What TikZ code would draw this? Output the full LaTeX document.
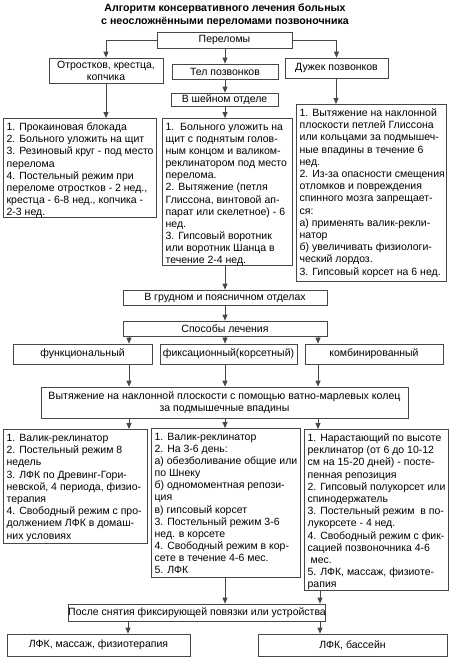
\documentclass[tikz,border=0pt]{standalone}
\usepackage{fontspec}
\setmainfont{Liberation Sans}
\usetikzlibrary{arrows.meta}
\definecolor{linec}{gray}{0.28}
\tikzset{
  bx/.style={draw=linec, line width=0.7pt, inner sep=0pt, font=\fontsize{10.5}{12.2}\selectfont},
  arr/.style={draw=linec, line width=0.9pt, -{Triangle[length=6pt,width=5pt]}},
  ttl/.style={font=\bfseries\fontsize{10.6}{13}\selectfont, align=center, inner sep=0pt},
}
% centred box: name, x1, y1, x2, y2, text
\newcommand\cbox[6]{\node[bx, align=center, minimum width={(#4-#2)*1pt}, minimum height={(#5-#3)*1pt}] (#1) at ({(#2+#4)/2},{(#3+#5)/2}) {#6};}
% list box, text from top-left: name, x1, y1, x2, y2, baselineskip, lines
\newcommand\lbox[7]{\node[bx, anchor=north west] (#1) at (#2,#3) {\parbox[c][\dimexpr #5pt-#3pt\relax][t]{\dimexpr #4pt-#2pt\relax}{\fontsize{10.5}{#6}\selectfont\vspace*{3.6pt}\hspace*{3.3pt}\begin{tabular}[t]{@{}l@{}}#7\end{tabular}}};}
\begin{document}
\begin{tikzpicture}[x=1pt,y=-1pt]
\useasboundingbox (0,0) rectangle (450,659);
\node[ttl] (title) at (225,15) {Алгоритм консервативного лечения больных\\с неосложнёнными переломами позвоночника};
\cbox{per}{157}{32}{292}{48}{Переломы}
\cbox{otr}{49}{58}{163}{83}{\fontsize{10.5}{12}\selectfont Отростков, крестца,\\копчика}
\cbox{tel}{172}{64}{278}{79}{Тел позвонков}
\cbox{duz}{285}{58}{388}{78}{Дужек позвонков}
\cbox{shey}{171}{93}{278}{106}{В шейном отделе}
\lbox{boxa}{3}{118}{156}{217}{12.2}{1. Прокаиновая блокада\\2. Больного уложить на щит\\3. Резиновый круг - под место\\перелома\\4. Постельный режим при\\переломе отростков - 2 нед.,\\крестца - 6-8 нед., копчика -\\2-3 нед.}
\lbox{boxb}{162}{118}{292}{265}{12.1}{1.\ \ Больного уложить на\\щит с поднятым голов-\\ным концом и валиком-\\реклинатором под место\\перелома.\\2. Вытяжение (петля\\Глиссона, винтовой ап-\\парат или скелетное) - 6\\нед.\\3. Гипсовый воротник\\или воротник Шанца в\\течение 2-4 нед.}
\lbox{boxc}{296}{104}{446}{281}{12.2}{1. Вытяжение на наклонной\\плоскости петлей Глиссона\\или кольцами за подмышеч-\\ные впадины в течение 6\\нед.\\2. Из-за опасности смещения\\отломков и повреждения\\спинного мозга запрещает-\\ся:\\а) применять валик-рекли-\\натор\\б) увеличивать физиологи-\\ческий лордоз.\\3. Гипсовый корсет на 6 нед.}
\cbox{grud}{123}{290}{327}{305}{В грудном и поясничном отделах}
\cbox{spos}{123}{321}{327}{336}{Способы лечения}
\cbox{fa}{13}{344}{152}{364}{функциональный}
\cbox{fb}{160}{344}{297}{364}{фиксационный(корсетный)}
\cbox{fc}{305}{344}{443}{364}{комбинированный}
\cbox{big}{41}{387}{408}{418}{\fontsize{10.6}{12.8}\selectfont Вытяжение на наклонной плоскости с помощью ватно-марлевых колец\\за подмышечные впадины}
\lbox{ca}{3}{429}{147}{543}{12.2}{1. Валик-реклинатор\\2. Постельный режим 8\\недель\\3. ЛФК по Древинг-Гори-\\невской, 4 периода, физио-\\терапия\\4. Свободный режим с про-\\должением ЛФК в домаш-\\них условиях}
\lbox{cb}{151}{428}{300}{577}{12.1}{1. Валик-реклинатор\\2. На 3-6 день:\\а) обезболивание общие или\\по Шнеку\\б) одномоментная репози-\\ция\\в) гипсовый корсет\\3. Постельный режим 3-6\\нед. в корсете\\4. Свободный режим в кор-\\сете в течение 4-6 мес.\\5. ЛФК}
\lbox{cc}{304}{429}{448}{590}{12.2}{1. Нарастающий по высоте\\реклинатор (от 6 до 10-12\\см на 15-20 дней) - посте-\\пенная репозиция\\2. Гипсовый полукорсет или\\спинодержатель\\3. Постельный режим\ \ в по-\\лукорсете - 4 нед.\\4. Свободный режим с фик-\\сацией позвоночника 4-6\\\ мес.\\5. ЛФК, массаж, физиоте-\\рапия}
\cbox{posle}{92}{604}{302}{621}{После снятия фиксирующей повязки или устройства}
\cbox{ba}{7}{634}{190}{656}{ЛФК, массаж, физиотерапия}
\cbox{bb}{258}{634}{447}{656}{ЛФК, бассейн}
% guide x positions for vertical connectors
\coordinate (xm) at (225,0);
\coordinate (xl) at (129,0);
\coordinate (xr) at (318,0);
\coordinate (xo) at (106,0);
\coordinate (xd) at (336,0);
\coordinate (xp) at (320,0);
\coordinate (xq) at (128,0);
% connectors
\draw[arr] (per.west) -| (otr.north);
\draw[arr] (per.east) -| (duz.north);
\draw[arr] (per.south -| xm) -- (tel.north -| xm);
\draw[arr] (tel.south -| xm) -- (shey.north -| xm);
\draw[arr] (otr.south -| xo) -- (boxa.north -| xo);
\draw[arr] (shey.south -| xm) -- (boxb.north -| xm);
\draw[arr] (duz.south -| xd) -- (boxc.north -| xd);
\draw[arr] (boxb.south -| xm) -- (grud.north -| xm);
\draw[arr] (grud.south -| xm) -- (spos.north -| xm);
\draw[arr] (spos.south -| xl) -- (fa.north -| xl);
\draw[arr] (spos.south -| xm) -- (fb.north -| xm);
\draw[arr] (spos.south -| xr) -- (fc.north -| xr);
\draw[arr] (fa.south -| xl) -- (big.north -| xl);
\draw[arr] (fb.south -| xm) -- (big.north -| xm);
\draw[arr] (fc.south -| xr) -- (big.north -| xr);
\draw[arr] (big.south -| xl) -- (ca.north -| xl);
\draw[arr] (big.south -| xm) -- (cb.north -| xm);
\draw[arr] (big.south -| xr) -- (cc.north -| xr);
\draw[arr] (cb.south -| xm) -- (posle.north -| xm);
\draw[arr] (cc.south -| xp) -- (posle.north -| xp);
\draw[arr] (posle.south -| xq) -- (ba.north -| xq);
\draw[arr] (posle.south -| xp) -- (bb.north -| xp);
\end{tikzpicture}
\end{document}
